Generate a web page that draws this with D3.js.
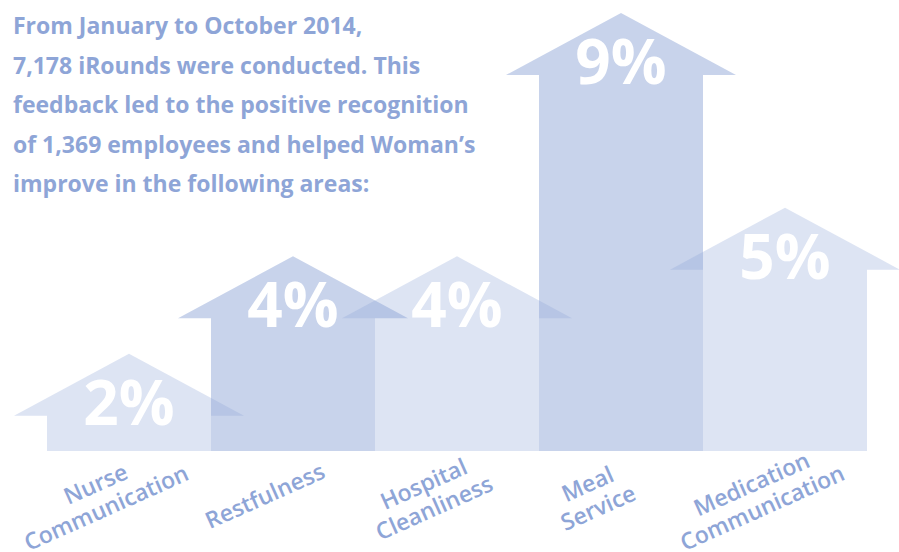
<!DOCTYPE html>
<html>
<head>
<meta charset="utf-8">
<script src="https://cdn.jsdelivr.net/npm/d3@7"></script>
<style>
    body {margin: 0; background: #fff;}
    #improvement-chart svg {display: block;}
    .introText {font-family: "Open Sans", sans-serif; font-weight: 700; font-size: 23px; fill: #8ea5d7;}
    .percentText {font-family: "Open Sans", sans-serif; font-weight: 700; font-size: 62px; fill: #fff; text-anchor: middle;}
    .categoryText {font-family: "Open Sans", sans-serif; font-weight: 600; font-size: 23px; fill: #8ea5d7; text-anchor: middle;}
</style>
</head>
<body>
<div id="improvement-chart"></div>
<script>
// chart data
var categories = [["Nurse", "Communication"], ["Restfulness"], ["Hospital", "Cleanliness"], ["Meal", "Service"], ["Medication", "Communication"]];
var improvement = [2, 4, 4, 9, 5];
var introLines = ["From January to October 2014,",
                  "7,178 iRounds were conducted. This",
                  "feedback led to the positive recognition",
                  "of 1,369 employees and helped Woman\u2019s",
                  "improve in the following areas:"];

/**
 * Constructor for the improvement arrow chart
 */
function ImprovementChart(){
    var self = this;
    self.init();
};

/**
 * Sets up sizes and the svg element
 */
ImprovementChart.prototype.init = function(){
    var self = this;

    self.svgWidth = 899;
    self.svgHeight = 552;
    self.margin = {top: 13, right: 32, bottom: 101, left: 47};

    self.headHeight = 62;    // height of the arrow head
    self.headOverhang = 33;  // how far the head sticks out past the shaft
    self.percentOffset = 71; // baseline of the % text below the tip
    self.labelShift = -28;
    self.labelY = 496;
    self.lineHeight = 26;

    self.svg = d3.select("#improvement-chart").append("svg")
        .attr("width", self.svgWidth)
        .attr("height", self.svgHeight);
};

/**
 * Builds the path for one arrow
 */
ImprovementChart.prototype.arrowPath = function(x0, w, top, base){
    var self = this;
    var headBase = top + self.headHeight;
    var p = d3.path();
    p.moveTo(x0, base);
    p.lineTo(x0, headBase);
    p.lineTo(x0 - self.headOverhang, headBase);
    p.lineTo(x0 + w / 2, top);
    p.lineTo(x0 + w + self.headOverhang, headBase);
    p.lineTo(x0 + w, headBase);
    p.lineTo(x0 + w, base);
    p.closePath();
    return p.toString();
};

/**
 * Draws the arrows, percentages, labels and intro text
 */
ImprovementChart.prototype.update = function(){
    var self = this;

    var xScale = d3.scaleBand()
        .domain(d3.range(categories.length))
        .range([self.margin.left, self.svgWidth - self.margin.right])
        .padding(0);

    var yScale = d3.scaleLinear()
        .domain([0, d3.max(improvement)])
        .range([self.svgHeight - self.margin.bottom, self.margin.top]);

    var base = yScale(0);
    var shaftWidth = xScale.bandwidth();

    //arrows, alternating lighter / darker, semi transparent so overlaps show
    self.svg.selectAll(".arrowShape").data(improvement)
        .enter()
        .append("path")
        .classed("arrowShape", true)
        .attr("d", function (d, i) {return self.arrowPath(xScale(i), shaftWidth, yScale(d), base)})
        .attr("fill", "#8fa6d6")
        .attr("fill-opacity", function (d, i) {return i % 2 == 0 ? 0.3 : 0.49});

    //percent inside the head
    self.svg.selectAll(".percentText").data(improvement)
        .enter()
        .append("text")
        .classed("percentText", true)
        .attr("x", function (d, i) {return xScale(i) + shaftWidth / 2})
        .attr("y", function (d) {return yScale(d) + self.percentOffset})
        .text(function (d) {return d + "%"});

    //slanted category labels
    var labels = self.svg.selectAll(".categoryLabel").data(categories)
        .enter()
        .append("g")
        .classed("categoryLabel", true)
        .attr("transform", function (d, i) {
            return "translate(" + (xScale(i) + shaftWidth / 2 + self.labelShift) + "," + self.labelY + ") rotate(-24)";
        });

    labels.append("text")
        .classed("categoryText", true)
        .selectAll("tspan")
        .data(function (d) {return d.map(function (t, j) {return {text: t, j: j, n: d.length}})})
        .enter()
        .append("tspan")
        .attr("x", 0)
        .attr("y", function (d) {return (d.j - (d.n - 1) / 2) * self.lineHeight + 8})
        .text(function (d) {return d.text});

    //intro paragraph
    self.svg.selectAll(".introText").data(introLines)
        .enter()
        .append("text")
        .classed("introText", true)
        .attr("x", 13)
        .attr("y", function (d, i) {return 34 + i * 39.6})
        .text(function (d) {return d});
};

var chart = new ImprovementChart();
chart.update();
</script>
</body>
</html>
